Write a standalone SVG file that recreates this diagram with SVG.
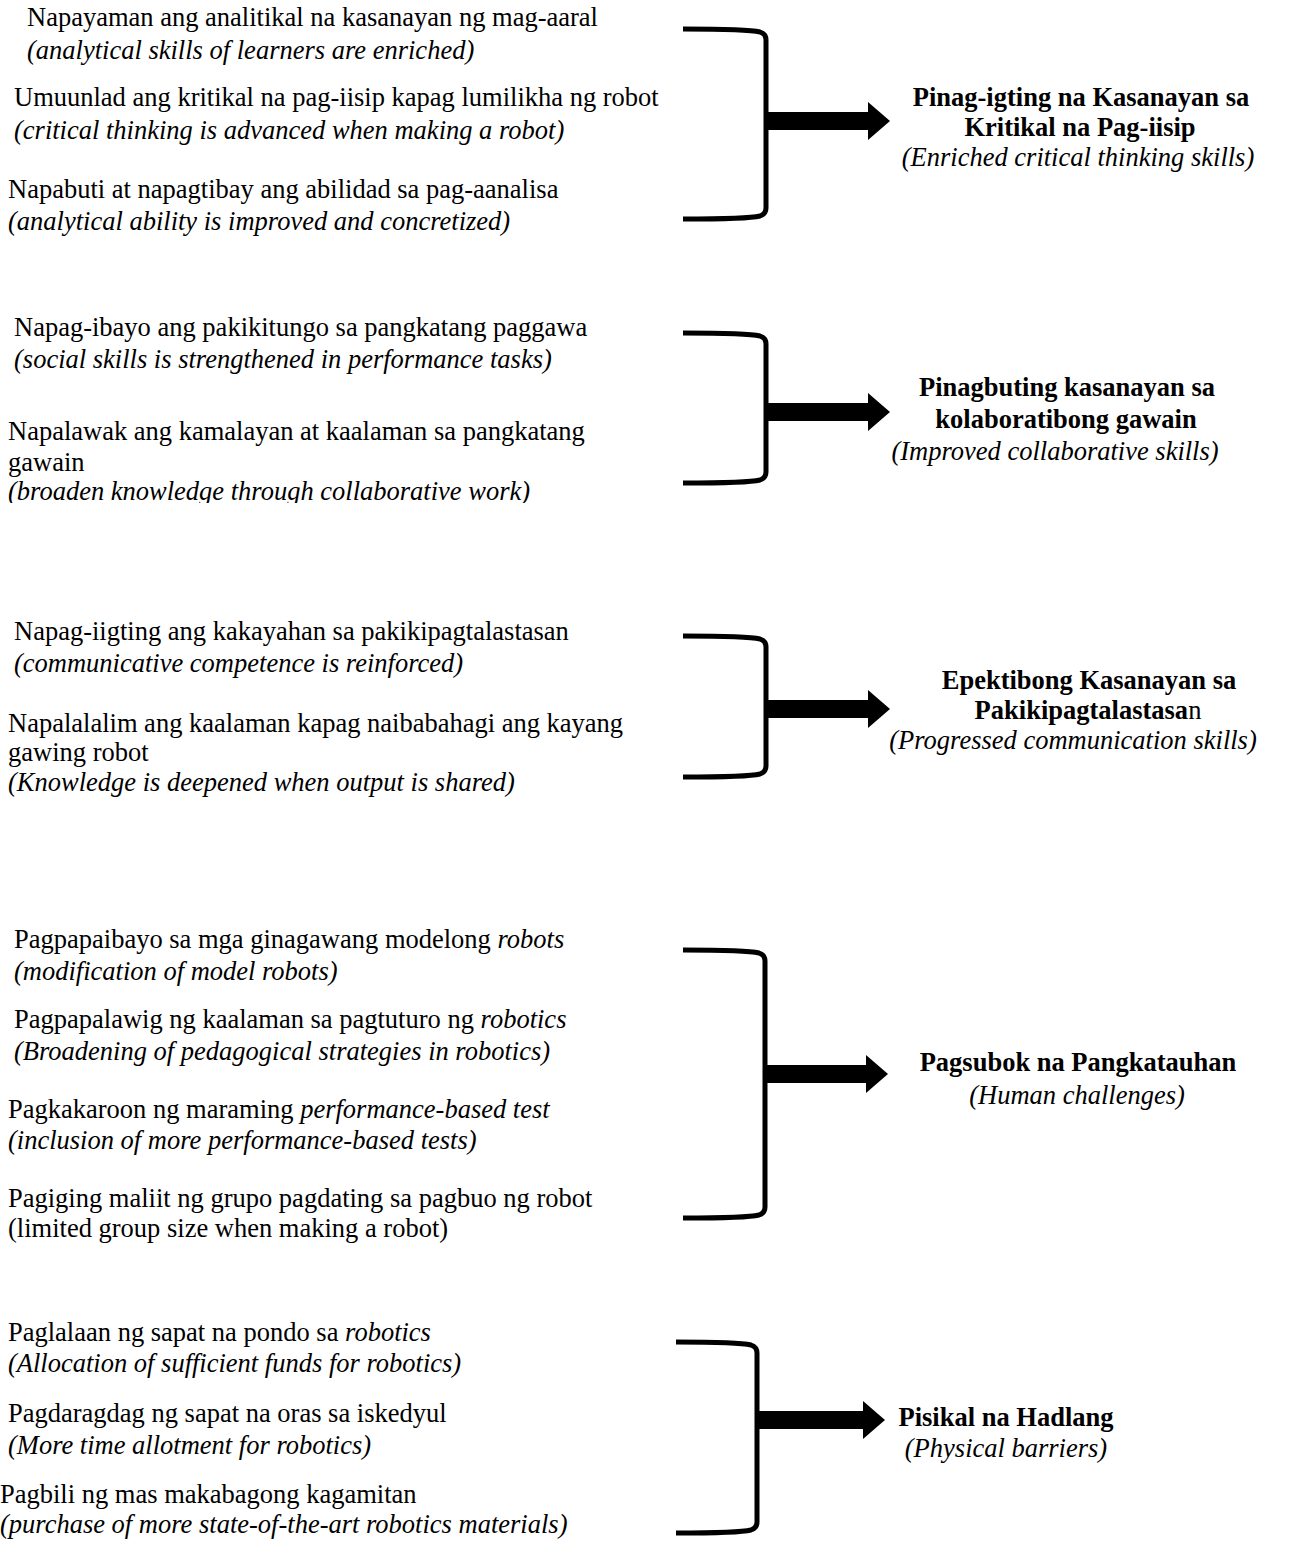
<svg xmlns="http://www.w3.org/2000/svg" width="1292" height="1549" viewBox="0 0 1292 1549">
<style>
  text { font-family: "Liberation Serif", "Times New Roman", serif; font-size: 26.5px; fill: #000; }
  .it { font-style: italic; }
  .b { font-weight: bold; }
  .r { font-weight: normal; }
  .mid { text-anchor: middle; }
  .bracket { fill: none; stroke: #000; stroke-width: 5; stroke-linejoin: round; }
  .shaft { stroke: #000; stroke-width: 18; marker-end: url(#head); }
</style>
<defs>
  <marker id="head" markerUnits="userSpaceOnUse" markerWidth="23" markerHeight="40" refX="1" refY="20" orient="auto">
    <path d="M0,1 L22,20 L0,39 Z" fill="#000"/>
  </marker>
  <clipPath id="clip2"><rect x="0" y="300" width="700" height="203"/></clipPath>
</defs>
<rect width="1292" height="1549" fill="#fff"/>

<g id="connectors">
  <path id="bracket1" class="bracket" d="M683,29 Q748,29 760,32 Q766,34 766,40 L766,208 Q766,214 760,216 Q748,219 683,219"/>
  <line id="arrow1" class="shaft" x1="764" y1="121" x2="869" y2="121"/>
  <path id="bracket2" class="bracket" d="M683,333 Q748,333 760,336 Q766,338 766,344 L766,472 Q766,478 760,480 Q748,483 683,483"/>
  <line id="arrow2" class="shaft" x1="764" y1="412" x2="869" y2="412"/>
  <path id="bracket3" class="bracket" d="M683,636 Q748,636 760,639 Q766,641 766,647 L766,766 Q766,772 760,774 Q748,777 683,777"/>
  <line id="arrow3" class="shaft" x1="764" y1="709" x2="869" y2="709"/>
  <path id="bracket4" class="bracket" d="M683,950 Q747,950 759,953 Q765,955 765,961 L765,1207 Q765,1213 759,1215 Q747,1218 683,1218"/>
  <line id="arrow4" class="shaft" x1="763" y1="1074" x2="867" y2="1074"/>
  <path id="bracket5" class="bracket" d="M676,1342 Q739,1342 751,1345 Q757,1347 757,1353 L757,1522 Q757,1528 751,1530 Q739,1533 676,1533"/>
  <line id="arrow5" class="shaft" x1="755" y1="1420" x2="864" y2="1420"/>
</g>

<g id="inputs1">
  <text x="27" y="26">Napayaman ang analitikal na kasanayan ng mag-aaral</text>
  <text class="it" x="27" y="59">(analytical skills of learners are enriched)</text>
  <text x="14" y="106">Umuunlad ang kritikal na pag-iisip kapag lumilikha ng robot</text>
  <text class="it" x="14" y="139">(critical thinking is advanced when making a robot)</text>
  <text x="8" y="198">Napabuti at napagtibay ang abilidad sa pag-aanalisa</text>
  <text class="it" x="8" y="230">(analytical ability is improved and concretized)</text>
</g>
<g id="outcome1">
  <text class="b mid" x="1081" y="106">Pinag-igting na Kasanayan sa</text>
  <text class="b mid" x="1080" y="136">Kritikal na Pag-iisip</text>
  <text class="it mid" x="1078" y="166">(Enriched critical thinking skills)</text>
</g>

<g id="inputs2">
  <text x="14" y="336">Napag-ibayo ang pakikitungo sa pangkatang paggawa</text>
  <text class="it" x="14" y="368">(social skills is strengthened in performance tasks)</text>
  <text x="8" y="440">Napalawak ang kamalayan at kaalaman sa pangkatang</text>
  <text x="8" y="471">gawain</text>
  <text class="it" x="8" y="500" clip-path="url(#clip2)">(broaden knowledge through collaborative work)</text>
</g>
<g id="outcome2">
  <text class="b mid" x="1067" y="396">Pinagbuting kasanayan sa</text>
  <text class="b mid" x="1066" y="428">kolaboratibong gawain</text>
  <text class="it mid" x="1055" y="460">(Improved collaborative skills)</text>
</g>

<g id="inputs3">
  <text x="14" y="640">Napag-iigting ang kakayahan sa pakikipagtalastasan</text>
  <text class="it" x="14" y="672">(communicative competence is reinforced)</text>
  <text x="8" y="732">Napalalalim ang kaalaman kapag naibabahagi ang kayang</text>
  <text x="8" y="761">gawing robot</text>
  <text class="it" x="8" y="791">(Knowledge is deepened when output is shared)</text>
</g>
<g id="outcome3">
  <text class="b mid" x="1089" y="689">Epektibong Kasanayan sa</text>
  <text class="b mid" x="1088" y="719">Pakikipagtalastasa<tspan class="r">n</tspan></text>
  <text class="it mid" x="1073" y="749">(Progressed communication skills)</text>
</g>

<g id="inputs4">
  <text x="14" y="948">Pagpapaibayo sa mga ginagawang modelong <tspan class="it">robots</tspan></text>
  <text class="it" x="14" y="980">(modification of model robots)</text>
  <text x="14" y="1028">Pagpapalawig ng kaalaman sa pagtuturo ng <tspan class="it">robotics</tspan></text>
  <text class="it" x="14" y="1060">(Broadening of pedagogical strategies in robotics)</text>
  <text x="8" y="1118">Pagkakaroon ng maraming <tspan class="it">performance-based test</tspan></text>
  <text class="it" x="8" y="1149">(inclusion of more performance-based tests)</text>
  <text x="8" y="1207">Pagiging maliit ng grupo pagdating sa pagbuo ng robot</text>
  <text x="8" y="1237">(limited group size when making a robot)</text>
</g>
<g id="outcome4">
  <text class="b mid" x="1078" y="1071">Pagsubok na Pangkatauhan</text>
  <text class="it mid" x="1077" y="1104">(Human challenges)</text>
</g>

<g id="inputs5">
  <text x="8" y="1341">Paglalaan ng sapat na pondo sa <tspan class="it">robotics</tspan></text>
  <text class="it" x="8" y="1372">(Allocation of sufficient funds for robotics)</text>
  <text x="8" y="1422">Pagdaragdag ng sapat na oras sa iskedyul</text>
  <text class="it" x="8" y="1454">(More time allotment for robotics)</text>
  <text x="0" y="1503">Pagbili ng mas makabagong kagamitan</text>
  <text class="it" x="0" y="1533">(purchase of more state-of-the-art robotics materials)</text>
</g>
<g id="outcome5">
  <text class="b mid" x="1006" y="1426">Pisikal na Hadlang</text>
  <text class="it mid" x="1006" y="1457">(Physical barriers)</text>
</g>
</svg>
